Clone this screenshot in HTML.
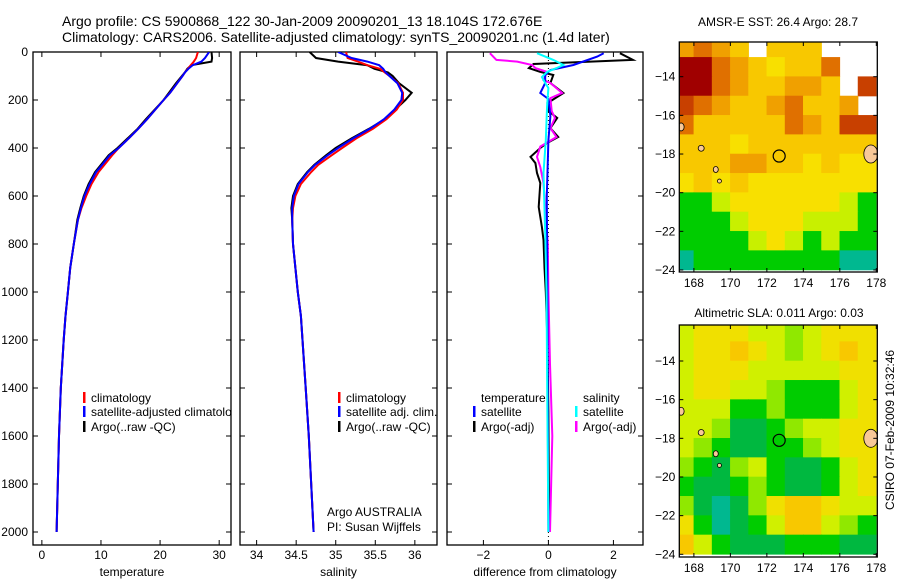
<!DOCTYPE html>
<html><head><meta charset="utf-8"><style>
body{margin:0;background:#fff;}
svg{display:block;font-family:"Liberation Sans",sans-serif;}
text{fill:#000;}
</style></head><body>
<svg id="fig" width="900" height="580" viewBox="0 0 900 580" xmlns="http://www.w3.org/2000/svg">
<text x="62" y="26" font-size="14">Argo profile: CS 5900868_122 30-Jan-2009 20090201_13 18.104S 172.676E</text>
<text x="62" y="42" font-size="14">Climatology: CARS2006. Satellite-adjusted climatology: synTS_20090201.nc (1.4d later)</text>
<text x="778" y="26" font-size="12" text-anchor="middle">AMSR-E SST: 26.4 Argo: 28.7</text>
<text x="779" y="317" font-size="12" text-anchor="middle">Altimetric SLA: 0.011 Argo: 0.03</text>
<text transform="translate(894,430) rotate(-90)" font-size="12" text-anchor="middle">CSIRO 07-Feb-2009 10:32:46</text>
</svg>
<script>
// ---------- profile data ----------
const P = [0,25,40,55,70,85,100,130,170,200,240,280,320,360,400,430,470,500,550,600,650,700,800,900,1000,1100,1200,1400,1600,1800,2000];
const tempClim = [26.4,26.1,25.7,25.2,24.7,24.2,23.8,22.9,21.7,20.6,19.2,17.8,16.3,14.7,13.0,11.9,10.6,9.6,8.4,7.5,6.7,6.1,5.4,4.8,4.4,4.0,3.7,3.2,2.9,2.7,2.5];
const tempSat = [28.3,27.6,27.0,25.5,24.8,24.2,23.8,22.9,21.7,20.6,19.2,17.8,16.3,14.7,13.0,11.5,10.2,9.2,8.1,7.2,6.6,6.1,5.4,4.8,4.4,4.0,3.7,3.2,2.9,2.7,2.5];
const tempArgo = [28.7,28.8,28.7,25.3,24.6,24.2,23.7,22.7,21.5,20.6,19.1,17.6,16.2,14.5,12.8,11.3,10.0,9.0,7.9,7.1,6.5,6.0,5.4,4.8,4.4,4.0,3.7,3.2,2.9,2.7,2.5];
const salClim = [35.13,35.15,35.28,35.40,35.56,35.62,35.68,35.79,35.85,35.85,35.77,35.64,35.47,35.26,35.08,34.95,34.78,34.69,34.56,34.49,34.46,34.45,34.46,34.49,34.52,34.56,34.58,34.62,34.66,34.69,34.72];
const salSat = [35.03,35.2,35.4,35.55,35.6,35.63,35.68,35.78,35.84,35.83,35.74,35.61,35.43,35.22,35.03,34.9,34.74,34.65,34.53,34.47,34.45,34.45,34.46,34.49,34.52,34.56,34.58,34.62,34.66,34.69,34.72];
const salArgo = [34.67,34.75,35.03,35.40,35.49,35.66,35.72,35.80,35.96,35.88,35.75,35.62,35.42,35.2,35.0,34.88,34.73,34.64,34.52,34.46,34.44,34.45,34.46,34.49,34.52,34.56,34.58,34.62,34.66,34.69,34.72];
// difference panel (salinity scaled)
const dTArgoP = [5,33,50,67,83,96,129,171,213,246,275,317,354,379,400,437,463,504,546,646,729,783,900,1000,1200,1500,2000];
const dTArgo = [2.2,2.6,-0.46,-0.6,-0.25,0.15,0.06,0.46,-0.03,0,0.27,0.06,0.3,-0.04,-0.25,-0.55,-0.4,-0.35,-0.25,-0.3,-0.2,-0.15,-0.12,-0.08,-0.03,0,0.02];
const dSArgoP = [5,33,40,54,67,83,117,129,171,192,246,275,317,354,394,437,479,546,646,800,1000,1300,1600,2000];
const dSArgo = [-1.8,-1.6,-0.96,-0.5,-0.4,-0.04,-0.15,0.06,0.42,0.06,0.1,0.2,0.06,0.25,-0.25,-0.35,-0.25,-0.15,-0.1,-0.02,0,0.05,0.12,0.05];
const dTSatP = [5,19,54,75,96,129,171,196,267,367,600,1000,1500,2000];
const dTSat = [1.7,1.5,0.77,0.06,-0.1,-0.1,-0.25,0,0.06,0,-0.05,-0.03,-0.02,0];
const dSSatP = [5,33,54,67,83,104,129,150,225,367,504,754,1000,1500,2000];
const dSSat = [-0.35,0.15,0.46,0.25,-0.04,-0.2,-0.1,0,-0.04,-0.08,-0.15,-0.1,-0.06,-0.03,0];
const pTicks = [0,200,400,600,800,1000,1200,1400,1600,1800,2000];
const tTicks = [0,10,20,30];
const sTicks = [34,34.5,35,35.5,36];
const dTicks = [-2,0,2];
// ---------- map data (1-degree cells, lat -12..-24, lon 167..178) ----------
const sstGrid = [
[7,8,7,6,-1,6,6,6,-1,-1,-1],
[10,10,8,7,6,5,6,6,8,-1,-1],
[10,10,8,7,6,6,7,7,6,-1,9],
[9,8,7,6,6,7,8,6,6,7,-1],
[8,6,6,6,6,6,8,7,6,9,9],
[6,6,6,5,6,6,6,6,6,6,6],
[6,6,6,7,7,6,6,5,6,5,5],
[5,6,5,6,5,5,5,5,5,5,5],
[3,3,4,5,5,5,5,5,5,4,3],
[3,3,3,4,5,5,5,4,4,4,3],
[3,3,3,3,4,5,4,3,4,3,3],
[2,3,3,3,3,3,3,3,3,2,2]];
const slaGrid = [
[4,5,5,5,4,4,3,4,5,5,5],
[4,5,5,6,5,4,3,4,5,6,5],
[4,5,5,5,4,4,4,4,4,5,5],
[4,5,5,4,4,3,2,2,2,4,5],
[4,4,4,2,2,3,2,2,2,4,5],
[4,4,3,1,1,2,3,4,4,5,5],
[4,3,2,1,1,2,2,3,4,5,5],
[3,2,1,3,4,2,1,1,2,4,5],
[2,1,1,2,3,2,1,1,2,4,5],
[3,1,0,1,3,5,6,6,5,4,4],
[5,2,0,1,2,4,6,6,4,3,2],
[6,4,2,1,1,1,2,2,2,1,1]];
const sstColors = ['#0040c0','#00c8f0','#00b890','#00cc00','#c8f000','#f8e000','#f8c800','#f0a000','#e07000','#c84000','#a00000'];
const slaColors = ['#00b890','#00b840','#00cc00','#90e800','#d0f000','#f0e000','#f8c800'];
const lonTicks = [168,170,172,174,176,178];
const latTicks = [-14,-16,-18,-20,-22,-24];
const argoLon = 172.676, argoLat = -18.104;

const NS='http://www.w3.org/2000/svg';
const svg=document.getElementById('fig');
function mk(tag,attrs,parent){const e=document.createElementNS(NS,tag);for(const k in attrs)e.setAttribute(k,attrs[k]);(parent||svg).appendChild(e);return e;}
function txt(s,x,y,anchor,size,parent){const t=mk('text',{x:x,y:y,'font-size':size||12,'text-anchor':anchor||'middle'},parent);t.textContent=s;return t;}

const Y0=52,PS=0.24,TOP=52,BOT=545;
const yP=p=>Y0+p*PS;
const panels=[
 {name:'temperature',x0:33,x1:231,lo:-1.5,hi:32,ticks:tTicks,label:'temperature'},
 {name:'salinity',x0:240,x1:437,lo:33.79,hi:36.28,ticks:sTicks,label:'salinity'},
 {name:'difference',x0:447,x1:643,lo:-3.12,hi:2.91,ticks:dTicks,label:'difference from climatology'}];
panels.forEach(pn=>{pn.xs=v=>pn.x0+(v-pn.lo)/(pn.hi-pn.lo)*(pn.x1-pn.x0);});

function series(pn,ps,vs,color,name){
  const d=vs.map((v,i)=>(i?'L':'M')+pn.xs(v).toFixed(1)+','+yP(ps[i]).toFixed(1)).join('');
  const path=mk('path',{d:d,fill:'none',stroke:color,'stroke-width':2,'clip-path':'url(#clip-'+pn.name+')'});
  
  
}
const defs=mk('defs',{});
panels.forEach((pn,k)=>{
  const g=mk('g',{});
  
  
  const cp=mk('clipPath',{id:'clip-'+pn.name},defs);
  mk('rect',{x:pn.x0,y:TOP,width:pn.x1-pn.x0,height:BOT-TOP},cp);
  pn.ticks.forEach(t=>{const x=pn.xs(t);
    mk('line',{x1:x,y1:BOT,x2:x,y2:BOT-5,stroke:'#000'},g);
    mk('line',{x1:x,y1:TOP,x2:x,y2:TOP+5,stroke:'#000'},g);
    const lb=txt(String(t).replace('-','−'),x,559,'middle',12,g);
    
    
  });
  pTicks.forEach(p=>{const y=yP(p);
    mk('line',{x1:pn.x0,y1:y,x2:pn.x0+5,y2:y,stroke:'#000'},g);
    mk('line',{x1:pn.x1,y1:y,x2:pn.x1-5,y2:y,stroke:'#000'},g);
    if(k===0){const lb=txt(String(p),28,y+4,'end',12,g);
      
      }
  });
  const xl=txt(pn.label,(pn.x0+pn.x1)/2,576,'middle',12,g);
  
  
  const fr=mk('rect',{x:pn.x0,y:TOP,width:pn.x1-pn.x0,height:BOT-TOP,fill:'none',stroke:'#000','stroke-width':1.3});
  
  
});
const [pT,pS,pD]=panels;
series(pT,P,tempArgo,'#000','temp-argo-line');
series(pT,P,tempClim,'#f00','temp-climatology-line');
series(pT,P,tempSat,'#00f','temp-satellite-line');
series(pS,P,salArgo,'#000','sal-argo-line');
series(pS,P,salClim,'#f00','sal-climatology-line');
series(pS,P,salSat,'#00f','sal-satellite-line');
const zl=mk('line',{x1:pD.xs(0),y1:TOP,x2:pD.xs(0),y2:BOT,stroke:'#000','stroke-dasharray':'1,3'});


series(pD,dTArgoP,dTArgo,'#000','diff-temp-argo-line');
series(pD,dSArgoP,dSArgo,'#f0f','diff-sal-argo-line');
series(pD,dTSatP,dTSat,'#00f','diff-temp-satellite-line');
series(pD,dSSatP,dSSat,'#0ff','diff-sal-satellite-line');

// legends
function legend(x,y,color,label,name,clip){
  const g=mk('g',clip?{'clip-path':'url(#clip-'+clip+')'}:{});
  
  
  if(color)mk('rect',{x:x,y:y-10,width:2.5,height:11,fill:color},g);
  txt(label,x+8,y,'start',12,g);
}
legend(83,402,'#f00','climatology','legend-climatology','temperature');
legend(83,416,'#00f','satellite-adjusted climatology','legend-satellite','temperature');
legend(83,431,'#000','Argo(..raw -QC)','legend-argo','temperature');
legend(338,402,'#f00','climatology','legend-sal-climatology','salinity');
legend(338,416,'#00f','satellite adj. clim.','legend-sal-satellite','salinity');
legend(338,431,'#000','Argo(..raw -QC)','legend-sal-argo','salinity');
legend(473,402,null,'temperature','legend-temperature-header');
legend(473,416,'#00f','satellite','legend-diff-temp-satellite');
legend(473,431,'#000','Argo(-adj)','legend-diff-temp-argo');
legend(575,402,null,'salinity','legend-salinity-header');
legend(575,416,'#0ff','satellite','legend-diff-sal-satellite');
legend(575,431,'#f0f','Argo(-adj)','legend-diff-sal-argo');
const ia=txt('Argo AUSTRALIA',327,516,'start',12);


const pi=txt('PI: Susan Wijffels',327,531,'start',12);



// maps
function drawMap(name,grid,colors,top,bot){
  const X0=679.3,X1=877.3,LON0=167.2;
  const yTop14=name==='sst-map'?76.7:361;
  const xl=lon=>X0+(lon-LON0)*18.24;
  const yl=lat=>yTop14+(-14-lat)*19.33;
  const g=mk('g',{});
  
  
  const cp=mk('clipPath',{id:'clip-'+name},defs);
  mk('rect',{x:X0,y:top,width:X1-X0,height:bot-top},cp);
  const cg=mk('g',{'clip-path':'url(#clip-'+name+')'},g);
  grid.forEach((row,r)=>row.forEach((v,c)=>{
    if(v<0)return;
    const cell=mk('rect',{x:xl(167+c)-0.3,y:yl(-12-r)-0.3,width:18.24+0.6,height:19.33+0.6,fill:colors[v]},cg);
    
    
  }));
  [[177.7,-18.0,7,9],[167.3,-16.6,3,4],[168.4,-17.7,3,3],[169.2,-18.8,2.5,3],[169.4,-19.4,2,2]].forEach(s=>{
    const isl=mk('ellipse',{cx:xl(s[0]),cy:yl(s[1]),rx:s[2],ry:s[3],fill:'#f8c898',stroke:'#000','stroke-width':0.8},cg);
    
    
  });
  const mk1=mk('circle',{cx:xl(argoLon),cy:yl(argoLat),r:6,fill:'none',stroke:'#000','stroke-width':1.2},g);
  
  
  mk('rect',{x:X0,y:top,width:X1-X0,height:bot-top,fill:'none',stroke:'#000','stroke-width':1.3},g);
  lonTicks.forEach(l=>{const x=xl(l);
    mk('line',{x1:x,y1:bot,x2:x,y2:bot-4,stroke:'#000'},g);
    mk('line',{x1:x,y1:top,x2:x,y2:top+4,stroke:'#000'},g);
    const t=txt(String(l),x,bot+15,'middle',12,g);
    
    
  });
  latTicks.forEach(l=>{const y=yl(l);
    mk('line',{x1:X0,y1:y,x2:X0+4,y2:y,stroke:'#000'},g);
    mk('line',{x1:X1,y1:y,x2:X1-4,y2:y,stroke:'#000'},g);
    const t=txt(String(l).replace('-','−'),X0-4,y+4,'end',12,g);
    
    
  });
}
drawMap('sst-map',sstGrid,sstColors,42,272);
drawMap('sla-map',slaGrid,slaColors,325,557);
</script>
</body></html>
